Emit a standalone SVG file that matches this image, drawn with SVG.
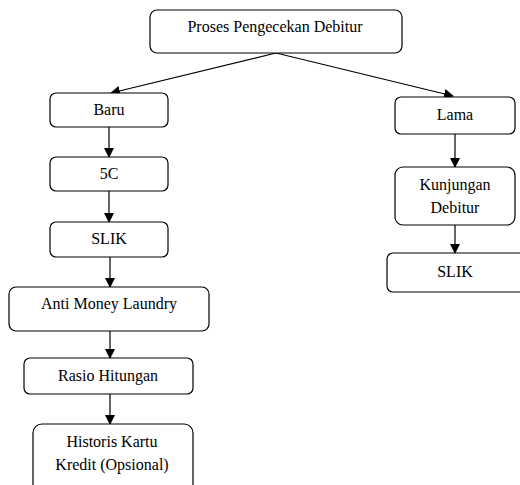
<svg xmlns="http://www.w3.org/2000/svg" width="520" height="485" viewBox="0 0 520 485">
<defs>
<marker id="ah" markerWidth="10" markerHeight="10" refX="9" refY="5" orient="auto" markerUnits="userSpaceOnUse">
<path d="M0,0 L10,5 L0,10 z" fill="#000"/>
</marker>
<style>
.box{fill:#fff;stroke:#000;stroke-width:1.2}
.lbl{font-family:'Liberation Serif','Times New Roman',serif;font-size:16px;fill:#000;text-anchor:middle}
.con{stroke:#000;stroke-width:1.2;fill:none;marker-end:url(#ah)}
</style>
</defs>
<rect width="520" height="485" fill="#fff"/>
<g id="connectors">
<line class="con" x1="276" y1="53" x2="111" y2="93"/>
<line class="con" x1="276" y1="53" x2="453" y2="96"/>
<line class="con" x1="109" y1="127" x2="109" y2="157"/>
<line class="con" x1="109" y1="191" x2="109" y2="222"/>
<line class="con" x1="110" y1="257" x2="110" y2="287"/>
<line class="con" x1="110" y1="331" x2="110" y2="358"/>
<line class="con" x1="110" y1="394" x2="110" y2="424"/>
<line class="con" x1="455" y1="134" x2="455" y2="167"/>
<line class="con" x1="455" y1="225" x2="455" y2="253"/>
</g>
<g id="n_top"><rect class="box" x="150" y="10" width="252" height="43" rx="7"/><text class="lbl" x="275" y="32">Proses Pengecekan Debitur</text></g>
<g id="n_baru"><rect class="box" x="50" y="93" width="118" height="34" rx="6"/><text class="lbl" x="109" y="115">Baru</text></g>
<g id="n_5c"><rect class="box" x="50" y="157" width="118" height="34" rx="6"/><text class="lbl" x="109" y="179">5C</text></g>
<g id="n_slik1"><rect class="box" x="50" y="222" width="118" height="35" rx="6"/><text class="lbl" x="109" y="244">SLIK</text></g>
<g id="n_aml"><rect class="box" x="9" y="287" width="200" height="44" rx="7"/><text class="lbl" x="109" y="309">Anti Money Laundry</text></g>
<g id="n_rasio"><rect class="box" x="24" y="358" width="169" height="36" rx="6"/><text class="lbl" x="108" y="381">Rasio Hitungan</text></g>
<g id="n_historis"><rect class="box" x="33" y="424" width="160" height="72" rx="9"/><text class="lbl" x="112" y="447">Historis Kartu</text><text class="lbl" x="112" y="470">Kredit (Opsional)</text></g>
<g id="n_lama"><rect class="box" x="395" y="97" width="120" height="37" rx="6"/><text class="lbl" x="455" y="120">Lama</text></g>
<g id="n_kunjungan"><rect class="box" x="395" y="167" width="120" height="58" rx="8"/><text class="lbl" x="455" y="190">Kunjungan</text><text class="lbl" x="455" y="213">Debitur</text></g>
<g id="n_slik2"><rect class="box" x="387" y="253" width="140" height="39" rx="6"/><text class="lbl" x="455" y="277">SLIK</text></g>
</svg>
